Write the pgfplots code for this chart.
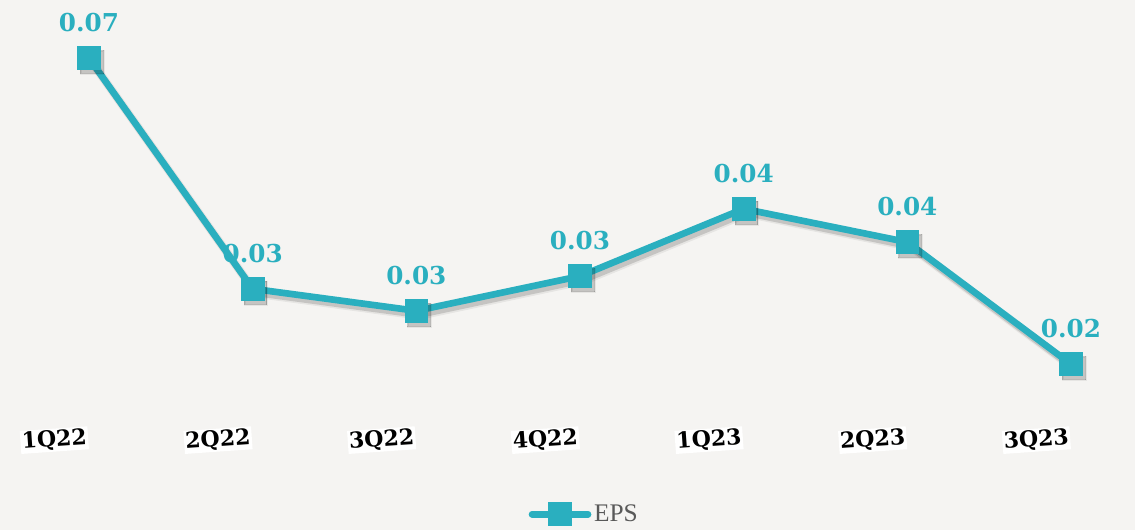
\documentclass[border=0pt]{standalone}
\usepackage{pgfplots}
\pgfplotsset{compat=1.18}
\usepackage{fontspec}
\setmainfont{DejaVu Serif}
\newfontfamily\legfont{Liberation Serif}
\definecolor{bgc}{HTML}{F5F4F2}
\definecolor{teal1}{HTML}{2AAFBF}
\definecolor{legtext}{HTML}{595959}
\begin{document}
\begin{tikzpicture}
\begin{axis}[
  at={(0,0)}, anchor=south west,
  scale only axis, width=851.25pt, height=397.5pt,
  xmin=-0.5438, xmax=6.391, ymin=-0.0045, ymax=0.075,
  axis background/.style={fill=bgc},
  axis line style={draw=none},
  ytick=\empty, xtick={0,...,6},
  xticklabels={1Q22,2Q22,3Q22,4Q22,1Q23,2Q23,3Q23},
  major tick length=0pt,
  xticklabel style={font=\bfseries\fontsize{16.5}{16.5}\selectfont, text=black, anchor=center, yshift=67.5pt, xshift=-26pt, rotate=4, fill=white, inner sep=1pt},
  clip=false,
  /pgf/number format/assume math mode=true,
  legend style={at={(0.515,0.03)}, anchor=center, draw=none, fill=none, font=\legfont\fontsize{19}{19}\selectfont, text=legtext},
  legend image code/.code={\draw[#1, line cap=round, mark repeat=2, mark phase=2] plot coordinates {(0pt,0pt) (21pt,0pt) (42pt,0pt)};},
]
\addplot[forget plot, draw=black, opacity=0.06, line width=6.5pt, mark=square*, mark options={fill=black, draw=black, line width=1.5pt}, mark size=8.5pt, shift={(2.5pt,-3.5pt)}] coordinates {(0,0.0663) (1,0.0317) (2,0.0284) (3,0.0336) (4,0.0437) (5,0.0387) (6,0.0204)};
\addplot[forget plot, draw=black, opacity=0.14, line width=5pt, mark=square*, mark options={fill=black, draw=black, line width=0pt}, mark size=8.5pt, shift={(2pt,-3pt)}] coordinates {(0,0.0663) (1,0.0317) (2,0.0284) (3,0.0336) (4,0.0437) (5,0.0387) (6,0.0204)};
\addplot[draw=teal1, line width=5pt, mark=square*, mark options={fill=teal1, draw=teal1, line width=0pt}, mark size=8.5pt,
  nodes near coords, point meta=y,
  every node near coord/.append style={font=\bfseries\fontsize{18.5}{18.5}\selectfont, text=teal1, anchor=base, yshift=20pt},
  /pgf/number format/.cd, fixed, fixed zerofill, precision=2]
  coordinates {(0,0.0663) (1,0.0317) (2,0.0284) (3,0.0336) (4,0.0437) (5,0.0387) (6,0.0204)};
\addlegendentry{EPS}
\end{axis}
\end{tikzpicture}
\end{document}
